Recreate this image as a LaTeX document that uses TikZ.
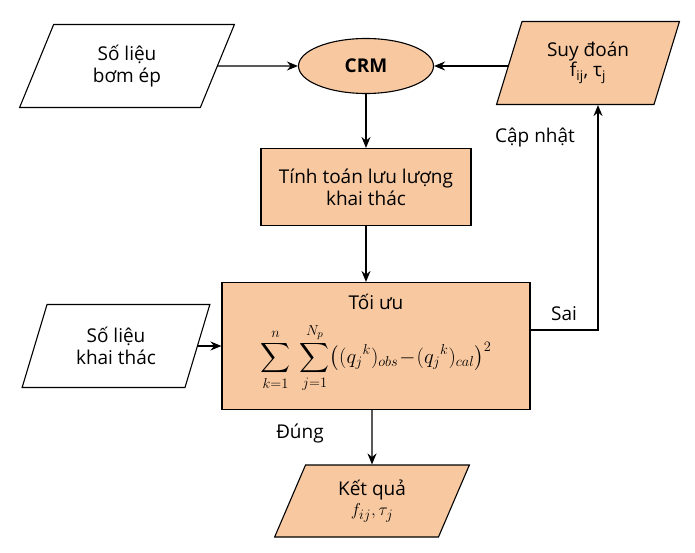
\documentclass[tikz,border=0pt]{standalone}
\usepackage{fontspec}
\setmainfont{Open Sans}
\usepackage{amsmath}
\usetikzlibrary{shapes.geometric,arrows.meta}
\begin{document}
\begin{tikzpicture}[x=1pt,y=-1pt,
  every node/.style={font=\fontsize{19}{22}\selectfont, align=center},
  para/.style={draw, line width=1.1pt, trapezium, trapezium left angle=70, trapezium right angle=110, trapezium stretches=true, inner sep=2pt},
  box/.style={draw, line width=1.1pt, fill=peach},
  arr/.style={-{Stealth[length=11pt,width=9pt]}, line width=1.3pt}]
\definecolor{peach}{HTML}{F8C9A1}
\tikzset{fillc/.style={fill=peach}}
\useasboundingbox (0,0) rectangle (695,553);
\node[para, fill=white, minimum width=215, minimum height=83] (bom) at (127,66) {Số liệu\\bơm ép};
\node[draw, line width=1.1pt, ellipse, fillc, minimum width=135, minimum height=55, font=\fontsize{19}{22}\selectfont\bfseries] (crm) at (366,66) {CRM};
\node[para, fillc, minimum width=183, minimum height=83] (sd) at (588,63) {Suy đoán\\[-2pt]f\textsubscript{ij}, τ\textsubscript{j}};
\node[box, minimum width=210, minimum height=77] (tt) at (366,187) {Tính toán lưu lượng\\khai thác};
\node[box, minimum width=308, minimum height=127] (tu) at (376,346) {};
\node at (376,302) {Tối ưu};
\node[font=\fontsize{22}{26}\selectfont] at (376,358) {$\displaystyle\sum_{k=1}^{n}\;\sum_{j=1}^{N_p}\bigl(({q_j}^k)_{obs}\!-\!({q_j}^k)_{cal}\bigr)^2$};
\node[para, fill=white, minimum width=188, minimum height=83] (kt) at (116,346) {Số liệu\\khai thác};
\node[para, fillc, minimum width=195, minimum height=72] (kq) at (372,501) {Kết quả\\[-2pt]$f_{ij},\tau_j$};
\coordinate (c1) at (598,330);
\draw[arr] (bom.east) -- (crm);
\draw[arr] (sd.west |- crm) -- (crm);
\draw[arr] (crm) -- (tt);
\draw[arr] (tt) -- (tt|-tu.north);
\draw[arr] (kt.east) -- (kt.east-|tu.west);
\draw[arr] (tu.east|-c1) -- (c1) -- (c1|-sd.south);
\draw[arr] (tu.south-|kq) -- (kq);
\node at (535,138) {Cập nhật};
\node at (564,314) {Sai};
\node at (300,434) {Đúng};
\end{tikzpicture}
\end{document}
